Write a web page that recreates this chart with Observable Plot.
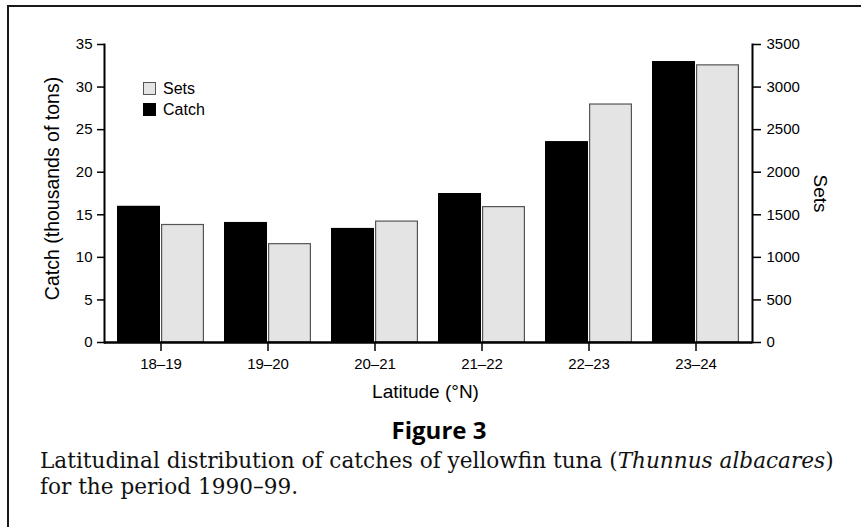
<!DOCTYPE html>
<html>
<head>
<meta charset="utf-8">
<script src="https://cdn.jsdelivr.net/npm/d3@7"></script>
<script src="https://cdn.jsdelivr.net/npm/@observablehq/plot@0.6"></script>
<style>
  html, body { margin: 0; padding: 0; background: #fff; overflow: hidden; width: 861px; height: 527px; }
  #page { position: relative; width: 861px; height: 527px; overflow: hidden; }
  #frame { position: absolute; left: 7px; top: 5px; width: 900px; height: 600px; border: 2px solid #1a1a1a; box-sizing: border-box; }
  #chart { position: absolute; left: 0; top: 0; }
  #legend { position: absolute; left: 143px; top: 78px; font-family: "Liberation Sans", Arial, sans-serif; font-size: 16px; color: #000; }
  .lg { display: flex; align-items: center; height: 21px; }
  .sw { width: 13px; height: 13px; box-sizing: border-box; margin-right: 7px; }
  #figtitle { position: absolute; left: 0; width: 878px; top: 413px; text-align: center; font-family: "Open Sans", sans-serif; font-weight: 700; font-size: 24px; color: #000; }
  #caption { position: absolute; left: 40px; top: 448px; width: 830px; white-space: nowrap; font-family: "DejaVu Serif", serif; font-size: 21.6px; line-height: 26px; color: #111; }
</style>
</head>
<body>
<div id="page">
  <div id="frame"></div>
  <div id="chart"></div>
  <div id="legend"></div>
  <div id="figtitle"></div>
  <div id="caption"></div>
</div>
<script>
// ---- data ----
const latitudes = ["18–19", "19–20", "20–21", "21–22", "22–23", "23–24"];
const catchValues = [16.0, 14.1, 13.4, 17.5, 23.6, 33.0];       // thousands of tons
const setsValues  = [1380, 1155, 1420, 1590, 2795, 3255];        // number of sets
const catchTicks = [0, 5, 10, 15, 20, 25, 30, 35];
const setsTicks  = [0, 500, 1000, 1500, 2000, 2500, 3000, 3500];
const seriesNames = ["Sets", "Catch"];
const seriesColors = ["#e4e4e4", "#000000"];
const setsPerCatchUnit = 3500 / 35; // right axis max / left axis max

const yLabel = "Catch (thousands of tons)";
const y2Label = "Sets";
const xLabel = "Latitude (°N)";
const figureTitle = "Figure 3";

// ---- layout ----
const W = 861, H = 410;
const mL = 104, mR = 109, mT = 44, mB = 68;

const xScaleOpts = {type: "band", domain: latitudes, paddingInner: 0.185, paddingOuter: 0.093};
const xs = Plot.scale({x: {...xScaleOpts, range: [mL, W - mR]}});
const half = xs.bandwidth / 2;

const catchRows = latitudes.map((lat, i) => ({lat, value: catchValues[i]}));
const setsRows = latitudes.map((lat, i) => ({lat, value: setsValues[i] / setsPerCatchUnit}));

const chart = Plot.plot({
  width: W, height: H,
  marginLeft: mL, marginRight: mR, marginTop: mT, marginBottom: mB,
  style: {fontFamily: "Liberation Sans, Arial, sans-serif", fontSize: "15px", color: "#000", background: "transparent", overflow: "visible"},
  x: {...xScaleOpts, axis: null},
  y: {domain: [0, 35], axis: null},
  marks: [
    Plot.barY(catchRows, {x: "lat", y: "value", fill: seriesColors[1], insetRight: half, insetLeft: 0}),
    Plot.barY(setsRows, {x: "lat", y: "value", fill: seriesColors[0], stroke: "#555", strokeWidth: 1.2, insetLeft: half + 0.6, insetRight: 0.6}),
    Plot.axisX({tickSize: 9, tickPadding: 7, stroke: "#000", strokeWidth: 1.5, label: null, fontSize: 15}),
    Plot.axisY({anchor: "left", ticks: catchTicks, tickSize: 7, tickPadding: 5, strokeWidth: 1.5, label: null, fontSize: 15}),
    Plot.axisY({anchor: "right", ticks: catchTicks, tickFormat: (d) => String(d * setsPerCatchUnit), tickSize: 8, tickPadding: 6, strokeWidth: 1.5, label: null, fontSize: 15}),
    Plot.frame({anchor: "left", stroke: "#000", strokeWidth: 2}),
    Plot.frame({anchor: "right", stroke: "#000", strokeWidth: 2}),
    Plot.ruleY([0], {stroke: "#000", strokeWidth: 2.5}),
    Plot.text([yLabel], {text: (d) => d, frameAnchor: "left", textAnchor: "middle", rotate: -90, dx: -52, dy: -5, fontSize: 19.5}),
    Plot.text([y2Label], {text: (d) => d, frameAnchor: "right", textAnchor: "middle", rotate: 90, dx: 68, fontSize: 19}),
    Plot.text([xLabel], {text: (d) => d, frameAnchor: "bottom", textAnchor: "middle", dy: 55, dx: -3, fontSize: 19})
  ]
});
document.getElementById("chart").appendChild(chart);

// legend
const legend = document.getElementById("legend");
seriesNames.forEach((name, i) => {
  const row = document.createElement("div");
  row.className = "lg";
  const sw = document.createElement("div");
  sw.className = "sw";
  sw.style.background = seriesColors[i];
  sw.style.border = i === 0 ? "1.2px solid #555" : "none";
  const t = document.createElement("span");
  t.textContent = name;
  row.appendChild(sw);
  row.appendChild(t);
  legend.appendChild(row);
});

document.getElementById("figtitle").textContent = figureTitle;
document.getElementById("caption").innerHTML =
  "Latitudinal distribution of catches of yellowfin tuna (<i>Thunnus albacares</i>)<br>for the period 1990–99.";
</script>
</body>
</html>
